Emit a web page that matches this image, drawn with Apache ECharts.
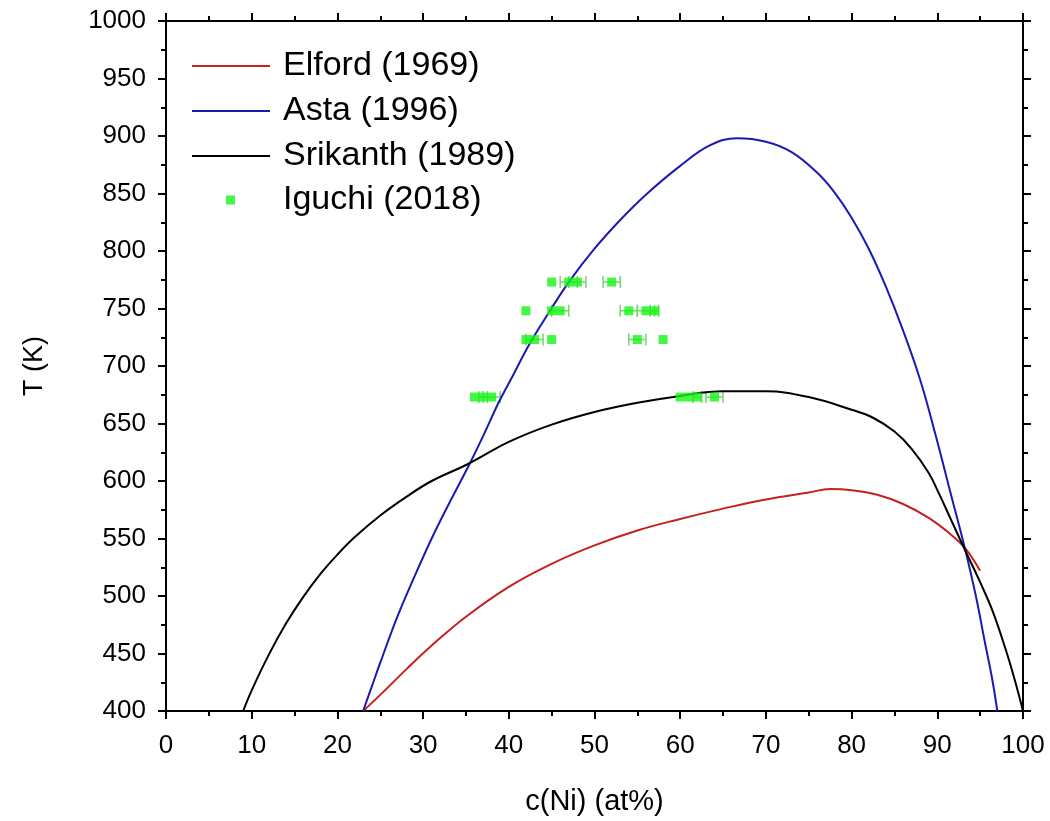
<!DOCTYPE html>
<html><head><meta charset="utf-8">
<script src="https://cdn.jsdelivr.net/npm/echarts@6/dist/echarts.min.js"></script>
<style>html,body{margin:0;padding:0;background:#fff}#c{width:1050px;height:821px}</style>
</head><body><div id="c"></div>
<script>
const xTicks = [0,10,20,30,40,50,60,70,80,90,100];
const yTicks = [400,450,500,550,600,650,700,750,800,850,900,950,1000];
const elford = [[23,400],[25,414],[28,436],[31,457],[35,482],[40,508],[45,528],[50,544],[55,557],[60,567],[65,576],[70,584],[75,590],[77.5,593],[80,592],[83,588],[86,580],[89,568],[91.5,554],[93.2,542],[95,522]];
const asta = [[23,400],[24,421],[25,442],[27,482],[29,517],[31,550],[33,580],[35.3,613],[37,639],[38.8,668],[40.5,692],[42.4,719],[44.8,748],[47,773],[50,802],[53,827],[56,849],[60,874],[63.5,892],[66.6,898],[70,895],[73,886],[76,868],[78,851],[80,829],[82,802],[84,769],[86,731],[88,688],[89.8,640],[91.6,588],[93.2,542],[94.5,500],[95.6,458],[96.4,428],[97,400]];
const srikanth = [[9,400],[10,418],[12,449],[14,476],[16,499],[18,519],[20,536],[22,551],[25,570],[28,586],[31,600],[35.3,615],[40,634],[45,649],[50,660],[55,668],[60,674],[65,678],[70,678],[75,673],[80,662],[82.5,655],[85,643],[87,628],[89,607],[90.2,589],[91.5,568],[93.1,542],[95,512],[96.5,486],[98,453],[99,428],[100,400]];
// Iguchi points: [c, T, error in c]
const iguchi = [
  [36,673,0],[37,673,0.5],[38,673,1],[60,673,0],[61,673,0],[62,673,0.5],[64,673,1],
  [42,723,0],[43,723,1],[45,723,0],[55,723,1],[58,723,0],
  [42,748,0],[45,748,0],[46,748,1],[54,748,1],[56,748,1],[57,748,0.5],
  [45,773,0],[47,773,1],[48,773,1],[52,773,1]
];
const font = 'Liberation Sans, Arial, sans-serif';
const chart = echarts.init(document.getElementById('c'));
const axisCommon = {
  min: 0, max: 100, interval: 10, type: 'value',
  axisLine: {show: true, onZero: false, lineStyle: {color: '#000', width: 2}},
  axisTick: {show: true, inside: false, length: 8, lineStyle: {color: '#000', width: 2}},
  minorTick: {show: true, splitNumber: 2, length: 5, lineStyle: {color: '#000', width: 2}},
  splitLine: {show: false}
};
const yCommon = Object.assign({}, axisCommon, {min: 400, max: 1000, interval: 50});
const labelStyle = {fontFamily: font, fontSize: 26, color: '#000', formatter: v => String(v)};
chart.setOption({
  animation: false,
  backgroundColor: '#fff',
  grid: {left: 166, right: 27, top: 21, bottom: 110},
  legend: [{
    data: ['Elford (1969)', 'Asta (1996)', 'Srikanth (1989)'],
    orient: 'vertical', left: 192, top: 49, padding: 0, itemWidth: 78, itemHeight: 2, itemGap: 11,
    icon: 'rect',
    textStyle: {fontFamily: font, fontSize: 34, lineHeight: 33, color: '#000', padding: [0,0,0,8]},
    selectedMode: false
  }, {
    data: ['Iguchi (2018)'],
    orient: 'vertical', left: 226, top: 183, padding: 0, itemWidth: 9, itemHeight: 9,
    textStyle: {fontFamily: font, fontSize: 34, lineHeight: 33, color: '#000', padding: [0,0,0,43]},
    selectedMode: false
  }],
  xAxis: [
    Object.assign({}, axisCommon, {position: 'bottom', name: 'c(Ni) (at%)', nameLocation: 'middle', nameGap: 76,
      nameTextStyle: {fontFamily: font, fontSize: 29, color: '#000'},
      axisLabel: Object.assign({margin: 22}, labelStyle)}),
    Object.assign({}, axisCommon, {position: 'top', axisLabel: {show: false}})
  ],
  yAxis: [
    Object.assign({}, yCommon, {position: 'left', name: 'T (K)', nameLocation: 'middle', nameGap: 118,
      nameTextStyle: {fontFamily: font, fontSize: 27, color: '#000'},
      axisLabel: Object.assign({margin: 20}, labelStyle)}),
    Object.assign({}, yCommon, {position: 'right', axisLabel: {show: false}})
  ],
  series: [
    {name: 'Elford (1969)', type: 'line', data: elford, symbol: 'none', smooth: 0.4,
      lineStyle: {color: '#c8201e', width: 2}, itemStyle: {color: '#c8201e'}},
    {name: 'Asta (1996)', type: 'line', data: asta, symbol: 'none', smooth: 0.4,
      lineStyle: {color: '#1a1ab0', width: 2}, itemStyle: {color: '#1a1ab0'}},
    {name: 'Srikanth (1989)', type: 'line', data: srikanth, symbol: 'none', smooth: 0.4,
      lineStyle: {color: '#000', width: 2}, itemStyle: {color: '#000'}},
    {name: 'Iguchi err', type: 'custom', data: iguchi.filter(d => d[2] > 0),
      renderItem: function (params, api) {
        const c = api.value(0), t = api.value(1), e = api.value(2);
        const p1 = api.coord([c - e, t]), p2 = api.coord([c + e, t]);
        const h = 6;
        const st = {stroke: '#6fd86f', lineWidth: 1.5};
        return {type: 'group', children: [
          {type: 'line', shape: {x1: p1[0], y1: p1[1], x2: p2[0], y2: p2[1]}, style: st},
          {type: 'line', shape: {x1: p1[0], y1: p1[1] - h, x2: p1[0], y2: p1[1] + h}, style: st},
          {type: 'line', shape: {x1: p2[0], y1: p2[1] - h, x2: p2[0], y2: p2[1] + h}, style: st}
        ]};
      }, z: 3},
    {name: 'Iguchi (2018)', type: 'scatter', data: iguchi.map(d => [d[0], d[1]]), symbol: 'rect', symbolSize: 9,
      itemStyle: {color: '#14f514'}, z: 4}
  ]
});
</script></body></html>
